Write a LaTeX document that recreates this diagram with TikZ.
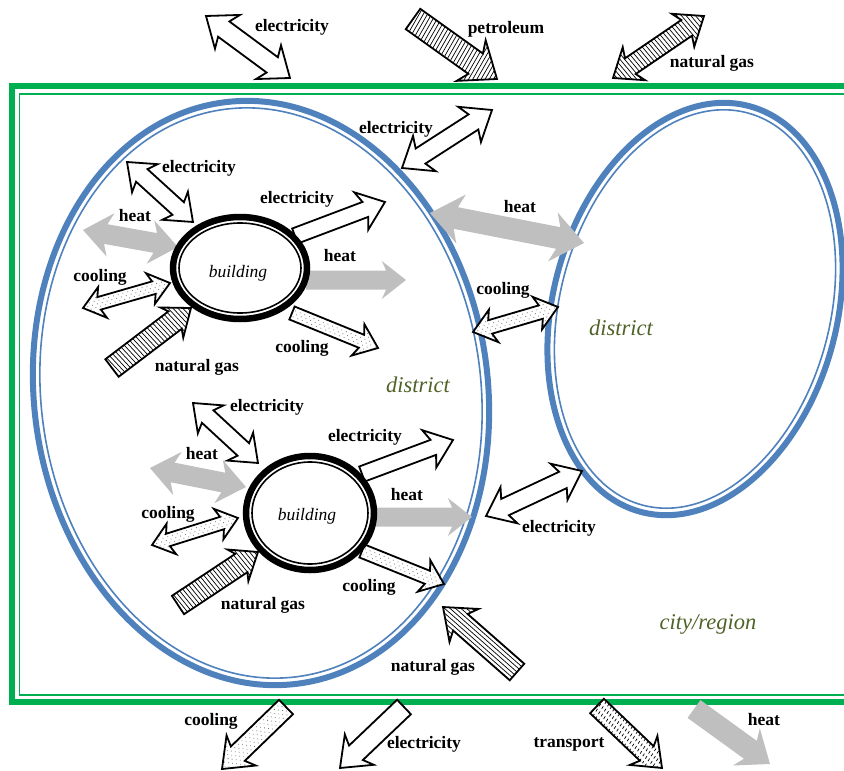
\documentclass[tikz,border=0pt]{standalone}
\usepackage{fontspec}
\setmainfont{Liberation Serif}
\definecolor{gblue}{HTML}{4F81BD}
\definecolor{ggreen}{HTML}{00B050}
\definecolor{heatgray}{HTML}{BFBFBF}
\definecolor{olivetxt}{HTML}{4F6228}
\tikzset{
  arwline/.style={draw=black,line width=1.8pt,line join=miter},
  hatchline/.style={draw=black,line width=0.7pt},
  lbl/.style={font=\fontsize{17.5}{19}\selectfont\bfseries,inner sep=0pt},
  bld/.style={font=\fontsize{17.5}{19}\selectfont\itshape,inner sep=0pt},
  dst/.style={font=\fontsize{22.5}{24}\selectfont\itshape,text=olivetxt,inner sep=0pt},
}
% block arrow: x1 y1 x2 y2 shaftwidth headhalfwidth kind heads
\newcommand\arw[8]{%
 \pgfmathsetmacro\adx{(#3)-(#1)}%
 \pgfmathsetmacro\ady{(#4)-(#2)}%
 \pgfmathsetmacro\aang{atan2(-\ady,\adx)}%
 \pgfmathsetmacro\alen{veclen(\adx,\ady)}%
 \pgfmathsetmacro\as{(#5)/2}%
 \pgfmathsetmacro\ah{#6}%
 \pgfmathsetmacro\ahl{1.05*(#6)}%
 \pgfmathsetmacro\asw{0.22*(#6)}%
 \pgfmathsetmacro\ab{\alen-\ahl}%
 \pgfmathsetmacro\ac{\alen-\ahl-\asw}%
 \pgfmathsetmacro\ad{\ahl+\asw}%
 \pgfmathtruncatemacro\anu{\alen/4+2}%
 \pgfmathtruncatemacro\anj{\ah/3+1}%
 \pgfmathtruncatemacro\amj{-\anj}%
 \ifnum#8=2
   \def\apath{(0,0) -- (\ad,-\ah) -- (\ahl,-\as) -- (\ab,-\as) -- (\ac,-\ah) -- (\alen,0) -- (\ac,\ah) -- (\ab,\as) -- (\ahl,\as) -- (\ad,\ah) -- cycle}%
 \else
   \def\apath{(0,-\as) -- (\ab,-\as) -- (\ac,-\ah) -- (\alen,0) -- (\ac,\ah) -- (\ab,\as) -- (0,\as) -- cycle}%
 \fi
 \begin{scope}[shift={(#1,#2)},rotate=\aang]
   \csname arwkind#7\endcsname
 \end{scope}}
\newcommand\arwkindwhite{\path[arwline,fill=white] \apath;}
\newcommand\arwkindgray{\path[fill=heatgray] \apath;}
\newcommand\arwkinddots{\path[fill=white] \apath;
  \begin{scope}\clip \apath;
   \foreach \ii in {0,...,\anu}{\foreach \jj in {\amj,...,\anj}{
     \fill[black!55] ({\ii*5+2.5*mod(abs(\jj),2)},{\jj*3.2}) circle (0.55);}}
  \end{scope}
  \path[arwline] \apath;}
\newcommand\arwkindhatch{\path[fill=white] \apath;
  \begin{scope}\clip \apath;
   \foreach \ii in {-3,...,\anu}{\draw[hatchline] ({\ii*3.6},-30) -- ({\ii*3.6+6},30);}
  \end{scope}
  \path[arwline] \apath;}
\newcommand\arwkindalong{\path[fill=white] \apath;
  \begin{scope}\clip \apath;
   \foreach \jj in {\amj,...,\anj}{\draw[hatchline] (-5,{\jj*3.6}) -- ({\alen+5},{\jj*3.6});}
  \end{scope}
  \path[arwline] \apath;}
\newcommand\arwkindtransport{\path[fill=white] \apath;
  \begin{scope}\clip \apath;
   \foreach \ii in {-3,...,\anu}{\draw[hatchline,dash pattern=on 3pt off 3pt] ({\ii*3.6},-10) -- ({\ii*3.6+4},10);}
  \end{scope}
  \path[arwline] \apath;}
\begin{document}
\begin{tikzpicture}[x=1pt,y=-1pt]
\useasboundingbox (0,0) rectangle (844,771);
\clip (0,0) rectangle (844,771);
% city/region frame
\draw[ggreen,line width=5.5pt] (870,86) -- (12,86) -- (12,702) -- (870,702);
\draw[ggreen,line width=1.5pt] (870,94) -- (19.5,94) -- (19.5,695) -- (870,695);
% left district
\begin{scope}[rotate around={7:(261,393)}]
 \draw[gblue,line width=6pt] (261,393) ellipse [x radius=227, y radius=293];
 \draw[gblue,line width=1.6pt] (261,393) ellipse [x radius=220, y radius=286];
\end{scope}
% right district
\begin{scope}[rotate around={-15:(695,309)}]
 \draw[gblue,line width=6pt] (695,309) ellipse [x radius=142, y radius=210];
 \draw[gblue,line width=1.6pt] (695,309) ellipse [x radius=135, y radius=203];
\end{scope}
% top arrows
\arw{206}{16}{290}{78}{19}{21}{white}{2}
\arw{413}{19}{497}{79}{25}{25}{hatch}{1}
\arw{613}{78}{704}{16}{19}{20}{hatch}{2}
% building 1 arrows
\arw{127}{162}{193}{222}{17}{19}{white}{2}
\arw{295}{236}{385}{202}{16}{20}{white}{1}
\arw{83}{230}{178}{247}{20}{22}{gray}{2}
\arw{306}{280}{406}{280}{19}{19}{gray}{1}
\arw{83}{308}{170}{283}{13}{16}{dots}{2}
\arw{292}{313}{378}{348}{14}{17}{dots}{1}
\arw{112}{368}{191}{308}{22}{19}{hatch}{1}
% building 2 arrows
\arw{193}{403}{258}{463}{17}{19}{white}{2}
\arw{362}{474}{453}{440}{16}{20}{white}{1}
\arw{150}{468}{246}{487}{20}{22}{gray}{2}
\arw{376}{517}{472}{517}{19}{19}{gray}{1}
\arw{152}{545}{238}{518}{13}{16}{dots}{2}
\arw{362}{551}{444}{584}{14}{17}{dots}{1}
\arw{178}{605}{258}{552}{22}{19}{hatch}{1}
% district arrows
\arw{402}{168}{492}{110}{18}{21}{white}{2}
\arw{430}{213}{584}{243}{22}{25}{gray}{2}
\arw{473}{332}{558}{307}{14}{17}{dots}{2}
\arw{486}{516}{582}{471}{18}{20}{white}{2}
\arw{517}{672}{443}{607}{22}{22}{along}{1}
% bottom arrows
\arw{286}{707}{222}{769}{20}{21}{dots}{1}
\arw{404}{707}{340}{768}{20}{21}{white}{1}
\arw{597}{706}{662}{768}{20}{20}{transport}{1}
\arw{694}{709}{770}{764}{22}{23}{gray}{1}
% buildings
\draw[line width=6.5pt,fill=white] (240,268) ellipse [x radius=67, y radius=51];
\draw[line width=1.6pt] (240,268) ellipse [x radius=61, y radius=45];
\node[bld] (b1) at (238,273) {building};
\draw[line width=6.5pt,fill=white] (310,513) ellipse [x radius=64, y radius=57];
\draw[line width=1.6pt] (310,513) ellipse [x radius=58, y radius=51];
\node[bld] (b2) at (307,516) {building};
% labels
\node[lbl] (t1) at (292,27) {electricity};
\node[lbl] (t2) at (506,29) {petroleum};
\node[lbl] (t3) at (712,63) {natural gas};
\node[lbl] (t4) at (396,129) {electricity};
\node[lbl] (t5) at (199,168) {electricity};
\node[lbl] (t6) at (297,199) {electricity};
\node[lbl] (t7) at (135,216) {heat};
\node[lbl] (t8) at (340,256) {heat};
\node[lbl] (t9) at (100,277) {cooling};
\node[lbl] (t10) at (302,348) {cooling};
\node[lbl] (t11) at (197,367) {natural gas};
\node[lbl] (t12) at (520,207) {heat};
\node[lbl] (t13) at (503,290) {cooling};
\node[dst] (d1) at (418,385) {district};
\node[dst] (d2) at (621,328) {district};
\node[lbl] (t14) at (267,407) {electricity};
\node[lbl] (t15) at (365,437) {electricity};
\node[lbl] (t16) at (202,454) {heat};
\node[lbl] (t17) at (407,495) {heat};
\node[lbl] (t18) at (168,514) {cooling};
\node[lbl] (t19) at (369,587) {cooling};
\node[lbl] (t20) at (263,605) {natural gas};
\node[lbl] (t21) at (559,528) {electricity};
\node[dst] (d3) at (708,624) {city/region};
\node[lbl] (t22) at (433,667) {natural gas};
\node[lbl] (t23) at (211,721) {cooling};
\node[lbl] (t24) at (424,744) {electricity};
\node[lbl] (t25) at (569,744) {transport};
\node[lbl] (t26) at (764,720) {heat};
\end{tikzpicture}
\end{document}
